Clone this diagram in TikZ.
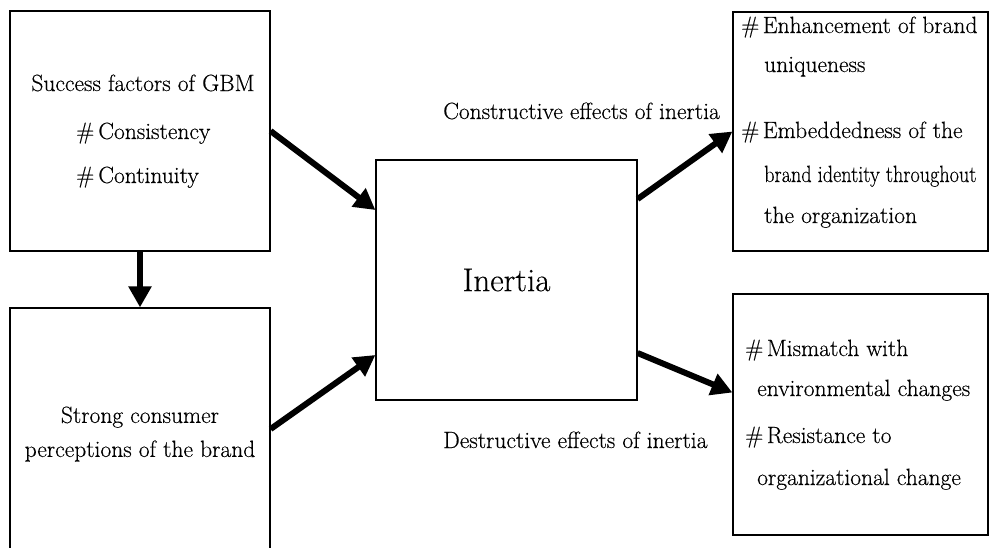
\documentclass[tikz,border=0pt]{standalone}
\usepackage{fontspec}
\setmainfont{Latin Modern Roman}[FakeBold=0.35]
\usepackage{graphicx}
\usetikzlibrary{arrows.meta}
\tikzset{
  box/.style={draw, line width=1.2pt, inner sep=0pt},
  txt/.style={inner sep=0pt, anchor=base west, font=\fontsize{23.5}{28}\selectfont},
  arr/.style={line width=6pt, -{Triangle[length=21pt,width=22pt]}}
}
\begin{document}
\begin{tikzpicture}[x=1pt,y=-1pt]
\useasboundingbox (0,0) rectangle (990,547);

% boxes
\node[box, minimum width=260pt, minimum height=240pt] (gbm) at (140,131) {};
\node[box, minimum width=260pt, minimum height=242pt] (perc) at (140,429) {};
\node[box, minimum width=261pt, minimum height=240pt, font=\fontsize{33}{38}\selectfont] (inertia) at (506.5,280) {Inertia};
\node[box, minimum width=255pt, minimum height=239pt] (pos) at (860.5,131.5) {};
\node[box, minimum width=255pt, minimum height=241pt] (neg) at (860.5,414.5) {};

% left texts
\node[txt, anchor=base] (gbmtitle) at (143,91) {Success factors of GBM};
\node[txt] (cons) at (76,139) {\#\kern4pt Consistency};
\node[txt] (cont) at (76,183) {\#\kern4pt Continuity};
\node[txt, anchor=center, align=center, font=\fontsize{23.5}{34}\selectfont] (perctext) at (140,434) {Strong consumer\\perceptions of the brand};

% effect labels
\node[txt] (poslabel) at (443,119) {Constructive effects of inertia};
\node[txt] (neglabel) at (443,448) {Destructive effects of inertia};

% right texts
\node[txt] (posa) at (741,33) {\#\kern3.5pt Enhancement of brand};
\node[txt] (posb) at (764,72) {uniqueness};
\node[txt] (posc) at (741,138) {\#\kern3.5pt Embeddedness of the};
\node[txt] (posd) at (764,182) {\scalebox{0.86}[1]{brand identity throughout}};
\node[txt] (pose) at (764,223) {the organization};
\node[txt] (nega) at (745,356) {\#\kern3.5pt Mismatch with};
\node[txt] (negb) at (757,396) {environmental changes};
\node[txt] (negc) at (745,443) {\#\kern3.5pt Resistance to};
\node[txt] (negd) at (757,485) {organizational change};

% arrows
\draw[arr] (gbm.south) -- (perc.north);
\draw[arr] (gbm.east) -- ([yshift=70pt]inertia.west);
\draw[arr] (perc.east) -- ([yshift=-75pt]inertia.west);
\draw[arr] ([yshift=81pt]inertia.east) -- (pos.west);
\draw[arr] ([yshift=-73pt]inertia.east) -- ([yshift=22pt]neg.west);
\end{tikzpicture}
\end{document}
